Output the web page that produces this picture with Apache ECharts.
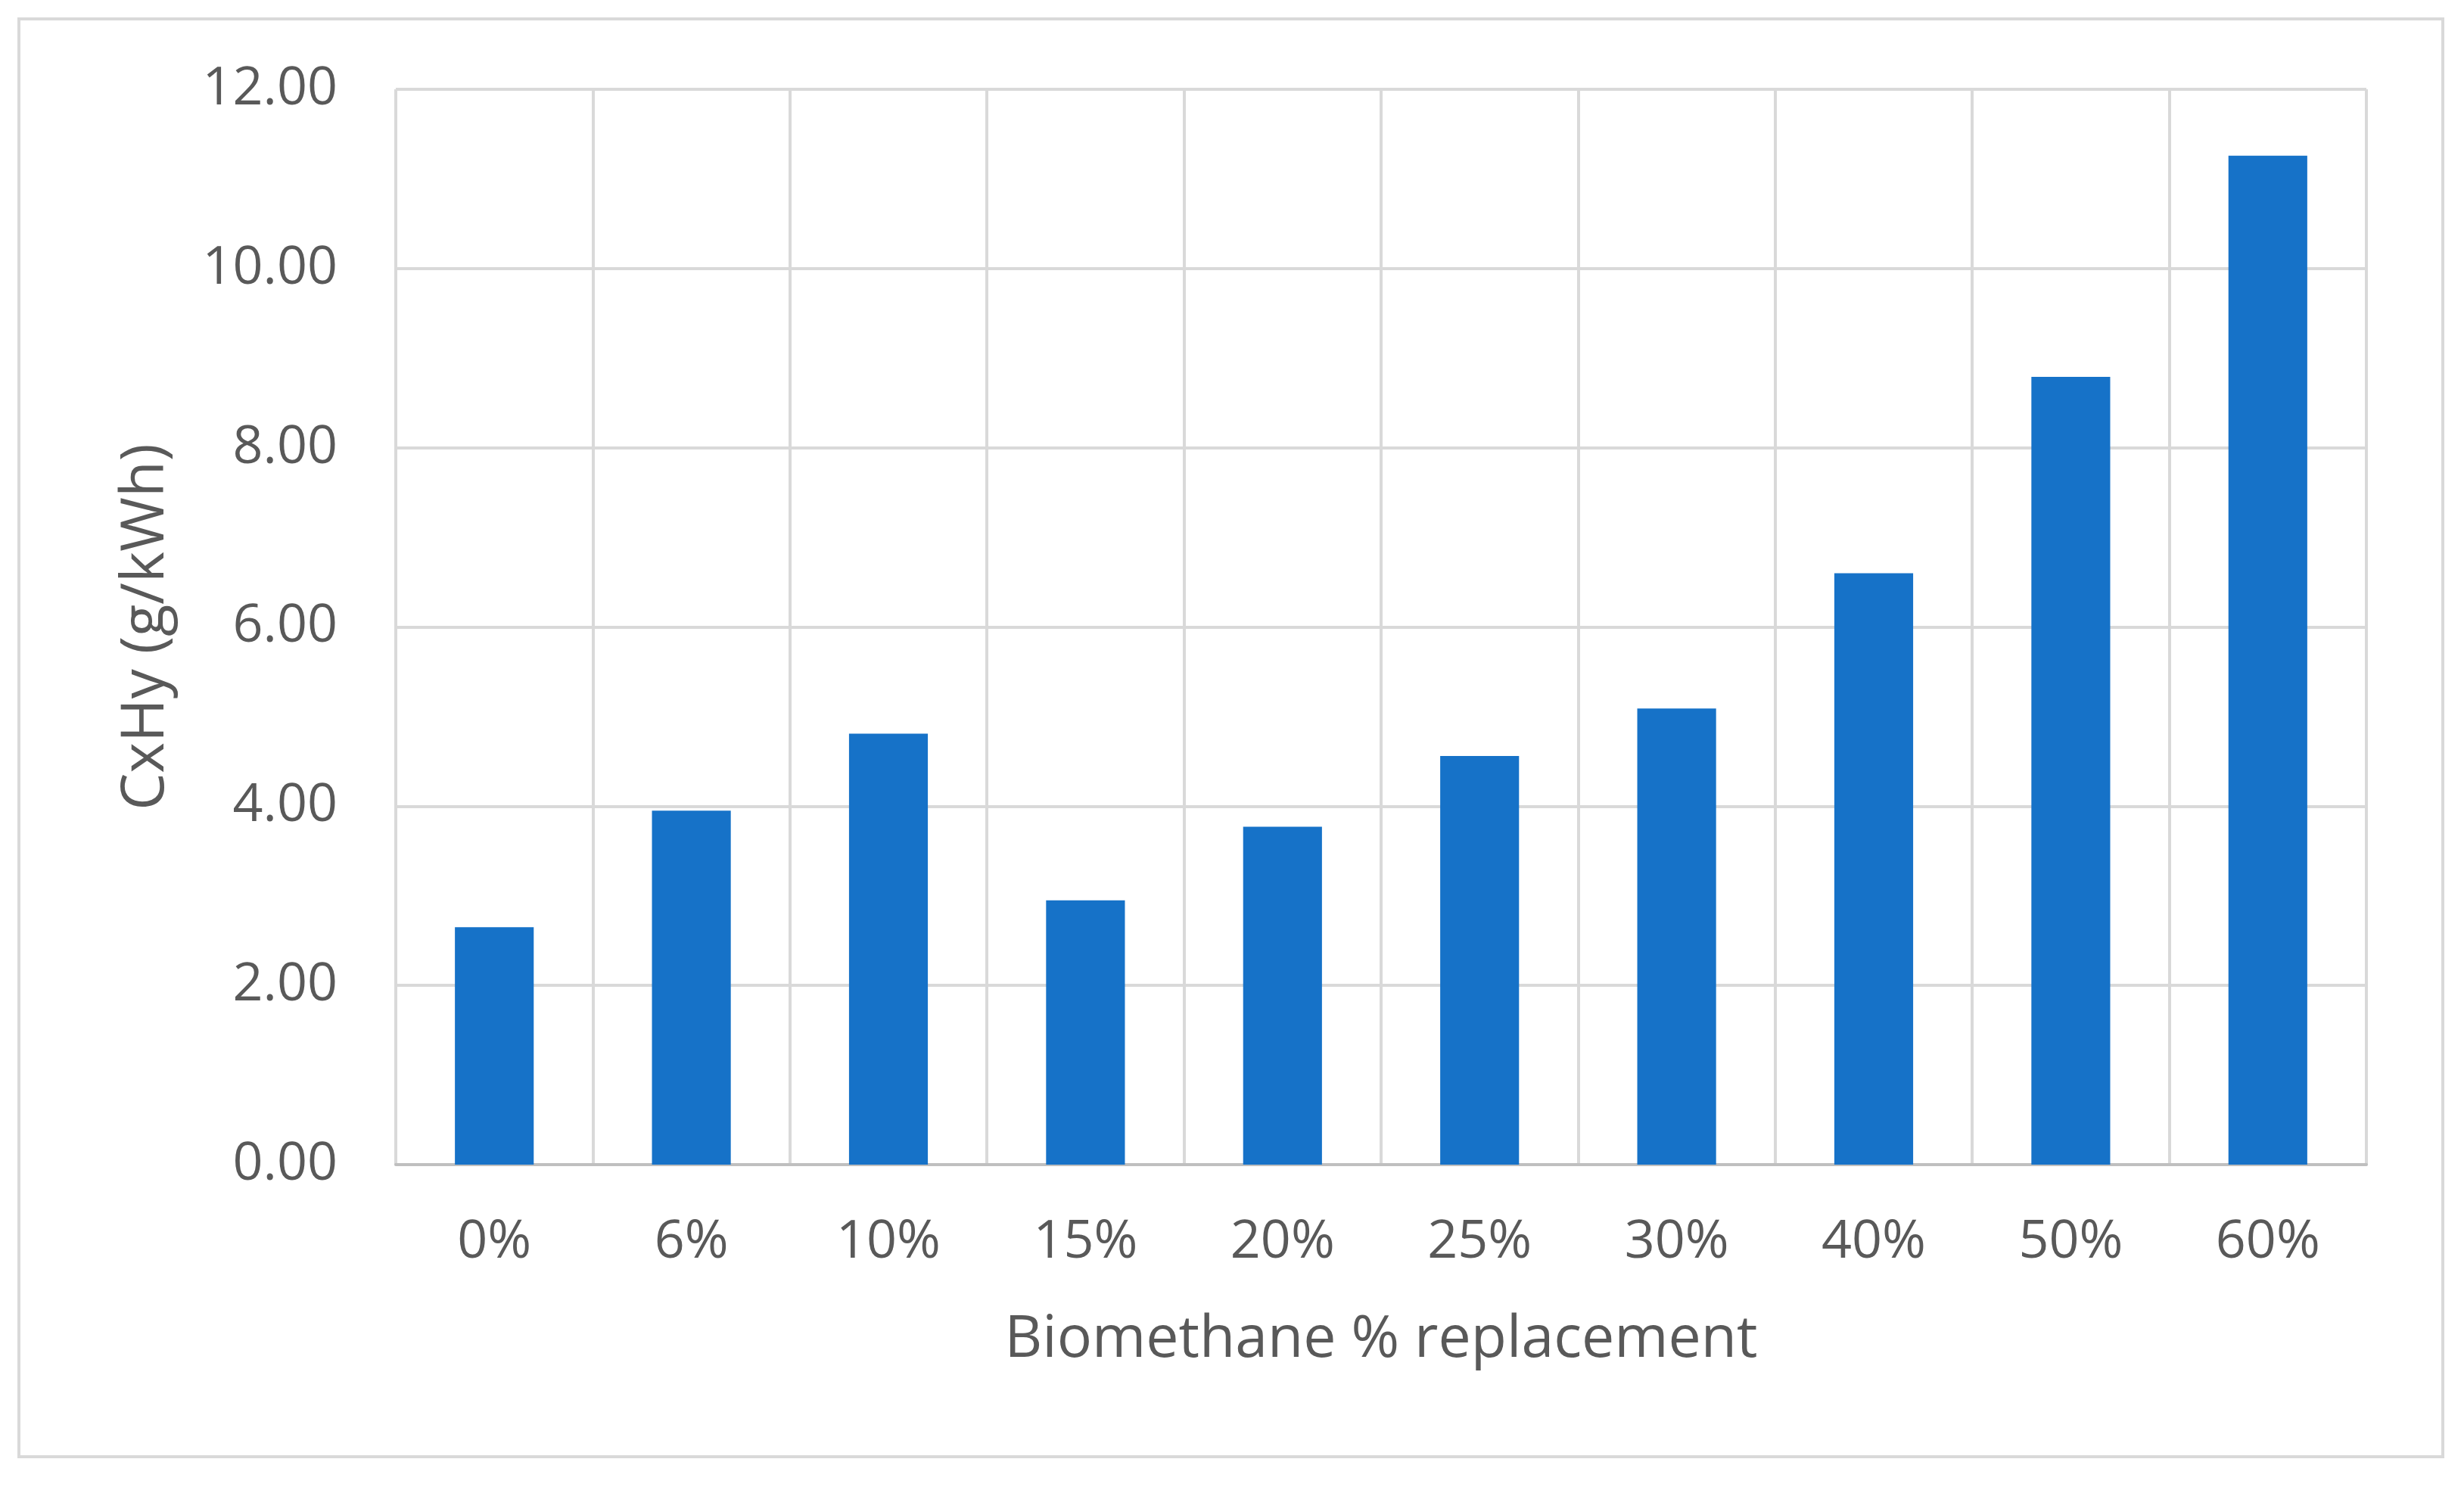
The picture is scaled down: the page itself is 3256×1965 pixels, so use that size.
<!DOCTYPE html>
<html>
<head>
<meta charset="utf-8">
<script src="https://cdn.jsdelivr.net/npm/echarts@6/dist/echarts.min.js"></script>
<style>
  html, body { margin: 0; padding: 0; background: #fff; }
  #chart { width: 3256px; height: 1965px; }
</style>
</head>
<body>
<div id="chart"></div>
<script>
// data
var categories = ['0%', '6%', '10%', '15%', '20%', '25%', '30%', '40%', '50%', '60%'];
var cxhy = [2.65, 3.95, 4.81, 2.95, 3.77, 4.56, 5.09, 6.60, 8.79, 11.26];

var chart = echarts.init(document.getElementById('chart'));

var textColor = '#595959';
var font = '"Open Sans", sans-serif';

var option = {
  backgroundColor: '#fff',
  animation: false,
  graphic: [{
    type: 'rect',
    shape: { x: 25, y: 25, width: 3203, height: 1900 },
    style: { fill: 'none', stroke: '#d9d9d9', lineWidth: 4 },
    silent: true
  }],
  grid: { left: 523, right: 129, top: 118, bottom: 426 },
  xAxis: {
    type: 'category',
    data: categories,
    name: 'Biomethane % replacement',
    nameLocation: 'middle',
    nameGap: 194,
    nameTextStyle: { color: textColor, fontSize: 77, fontFamily: font },
    axisLine: { show: true, lineStyle: { color: '#bfbfbf', width: 4 } },
    axisTick: { show: false },
    axisLabel: { color: textColor, fontSize: 70, fontFamily: font, margin: 68 },
    splitLine: { show: true, lineStyle: { color: '#d9d9d9', width: 4 } }
  },
  yAxis: {
    type: 'value',
    min: 0,
    max: 12,
    interval: 2,
    name: 'CxHy (g/kWh)',
    nameLocation: 'middle',
    nameGap: 290,
    nameTextStyle: { color: textColor, fontSize: 78, fontFamily: font },
    axisLine: { show: false },
    axisTick: { show: false },
    axisLabel: {
      color: textColor, fontSize: 70, fontFamily: font, margin: 77,
      formatter: function (v) { return v.toFixed(2); }
    },
    splitLine: { show: true, lineStyle: { color: '#d9d9d9', width: 4 } }
  },
  series: [{
    type: 'bar',
    data: cxhy,
    barWidth: '40%',
    itemStyle: { color: '#1672c8' }
  }]
};

chart.setOption(option);
</script>
</body>
</html>
